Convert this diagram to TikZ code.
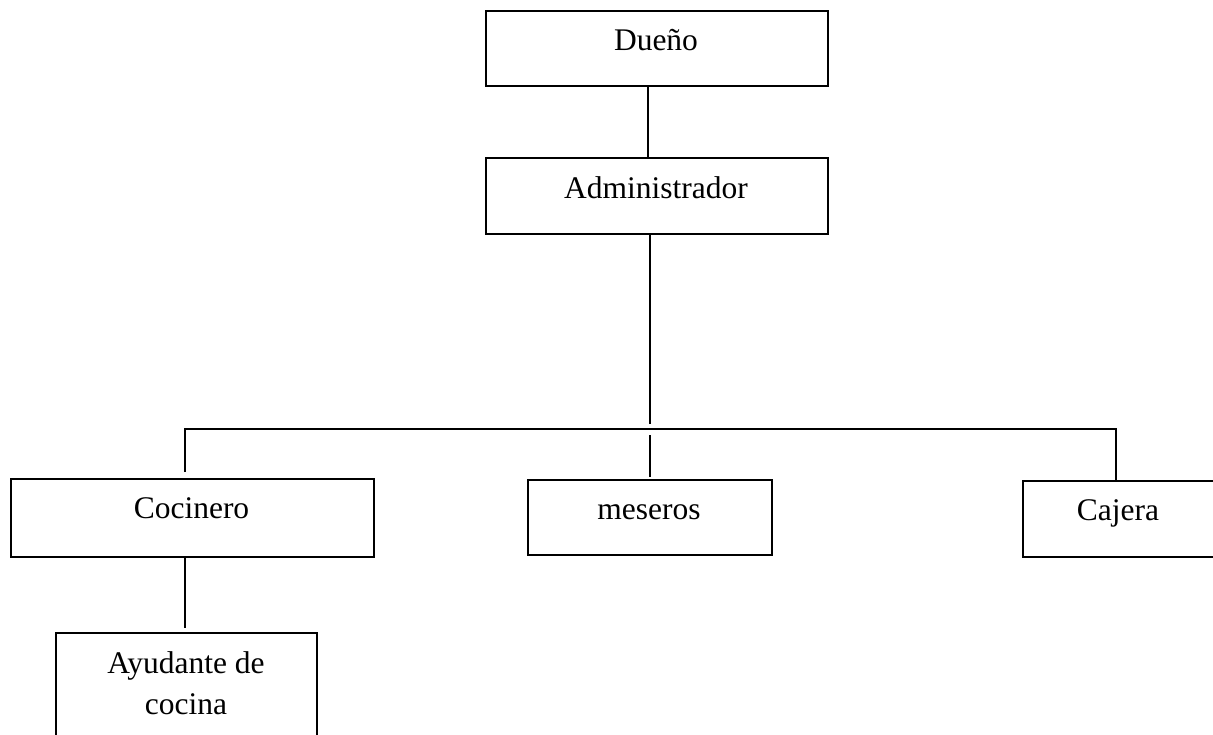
\documentclass[tikz,border=0pt]{standalone}
\usepackage{fontspec}
\setmainfont{Liberation Serif}
\begin{document}
\begin{tikzpicture}[x=1pt,y=-1pt,
  box/.style={draw,line width=1.8pt,rectangle,inner sep=0pt,anchor=north west},
  lbl/.style={anchor=base,inner sep=0pt,font=\fontsize{31.5}{41}\selectfont},
  conn/.style={line width=1.8pt}]
\useasboundingbox (0,0) rectangle (1213,735);
\clip (0,0) rectangle (1213,735);
% boxes
\node[box,minimum width=342pt,minimum height=75pt] (dueno) at (485,10) {};
\node[box,minimum width=342pt,minimum height=76pt] (admin) at (485,157) {};
\node[box,minimum width=363pt,minimum height=78pt] (cocinero) at (10,478) {};
\node[box,minimum width=244pt,minimum height=75pt] (meseros) at (527,479) {};
\node[box,minimum width=200pt,minimum height=76pt] (cajera) at (1022,480) {};
\node[box,minimum width=261pt,minimum height=140pt] (ayudante) at (55,632) {};
% labels
\node[lbl] (tdueno) at (656,51) {Dueño};
\node[lbl] (tadmin) at (656,199) {Administrador};
\node[lbl] (tcocinero) at (191.5,518) {Cocinero};
\node[lbl] (tmeseros) at (649,519) {meseros};
\node[lbl] (tcajera) at (1118,520) {Cajera};
\node[lbl] (tayud1) at (186,673) {Ayudante de};
\node[lbl] (tayud2) at (186,714) {cocina};
% connectors
\coordinate (busl) at (185,429);
\coordinate (busr) at (1116,429);
\draw[conn] ([xshift=-9pt]dueno.south) -- ([xshift=-9pt]admin.north);
\draw[conn] ([xshift=-7pt]admin.south) -- ++(0,189);
\draw[conn] ([yshift=6pt]cocinero.north -| busl) -- (busl) -- (busr) -- ([yshift=-2pt]cajera.north -| busr);
\draw[conn] ([yshift=2pt]meseros.north) -- ++(0,-42);
\draw[conn] (cocinero.south -| busl) -- ([yshift=4pt]ayudante.north -| busl);
\end{tikzpicture}
\end{document}
